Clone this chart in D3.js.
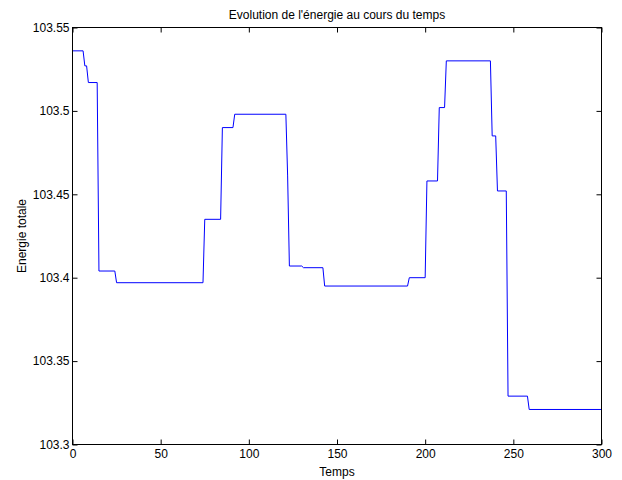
<!DOCTYPE html>
<html><head><meta charset="utf-8">
<script src="https://cdn.jsdelivr.net/npm/d3@7"></script>
<style>
body{margin:0;background:#fff;}
text{font-family:"Liberation Sans",Arial,Helvetica,sans-serif;}
</style></head>
<body>
<svg id="chart" width="622" height="480"></svg>
<script>
const times = [0,6,7,8,9,14,15,24,25,74,75,84,85,91,92,121,122,123,130,131,142,143,190,191,200,201,207,208,211,212,237,238,240,241,246,247,258,259,300];
const energy = [103.536,103.536,103.527,103.527,103.517,103.517,103.404,103.404,103.397,103.397,103.435,103.435,103.490,103.490,103.498,103.498,103.461,103.407,103.407,103.406,103.406,103.395,103.395,103.400,103.400,103.458,103.458,103.502,103.502,103.530,103.530,103.485,103.485,103.452,103.452,103.329,103.329,103.321,103.321];
const xTicks = [0,50,100,150,200,250,300];
const yTicks = [103.3,103.35,103.4,103.45,103.5,103.55];
const title = "Evolution de l'énergie au cours du temps";
const xLabel = "Temps";
const yLabel = "Energie totale";

const svg = d3.select("#chart");
const L=72.5, R=601.5, T=27.5, B=444.5;
const x = d3.scaleLinear().domain([0,300]).range([L,R]);
const y = d3.scaleLinear().domain([103.3,103.55]).range([B,T]);
const fs = 12;

// line
const data = times.map((t,i)=>[t,energy[i]]);
svg.append("path").datum(data)
  .attr("fill","none").attr("stroke","#0000ff").attr("stroke-width",1)
  .attr("d", d3.line().x(d=>x(d[0])).y(d=>y(d[1])));

// axes (MATLAB box, ticks inside)
const tl = 5;
const ax = svg.append("g").attr("stroke","#000").attr("fill","none");
ax.append("rect").attr("x",L).attr("y",T).attr("width",R-L).attr("height",B-T).attr("stroke-width",1);

const gBottom = svg.append("g").attr("transform",`translate(0,${B})`)
  .call(d3.axisBottom(x).tickValues(xTicks).tickSize(-tl).tickPadding(5).tickFormat(d3.format("d")));
const gTop = svg.append("g").attr("transform",`translate(0,${T})`)
  .call(d3.axisTop(x).tickValues(xTicks).tickSize(-tl).tickFormat(""));
const gLeft = svg.append("g").attr("transform",`translate(${L},0)`)
  .call(d3.axisLeft(y).tickValues(yTicks).tickSize(-tl).tickPadding(3).tickFormat(d=>String(+d.toFixed(2))));
const gRight = svg.append("g").attr("transform",`translate(${R},0)`)
  .call(d3.axisRight(y).tickValues(yTicks).tickSize(-tl).tickFormat(""));
[gBottom,gTop,gLeft,gRight].forEach(g=>{
  g.select(".domain").remove();
  g.selectAll("line").attr("stroke","#000");
  g.selectAll("text").attr("fill","#000").style("font-size",fs+"px").style("font-family","'Liberation Sans',Arial,sans-serif");
});

svg.append("text").attr("x",(L+R)/2).attr("y",19).attr("text-anchor","middle")
  .style("font-size",fs+"px").text(title);
svg.append("text").attr("x",(L+R)/2).attr("y",476).attr("text-anchor","middle")
  .style("font-size",fs+"px").text(xLabel);
svg.append("text").attr("transform",`translate(26,${(T+B)/2}) rotate(-90)`).attr("text-anchor","middle")
  .style("font-size",fs+"px").text(yLabel);
</script>
</body></html>
